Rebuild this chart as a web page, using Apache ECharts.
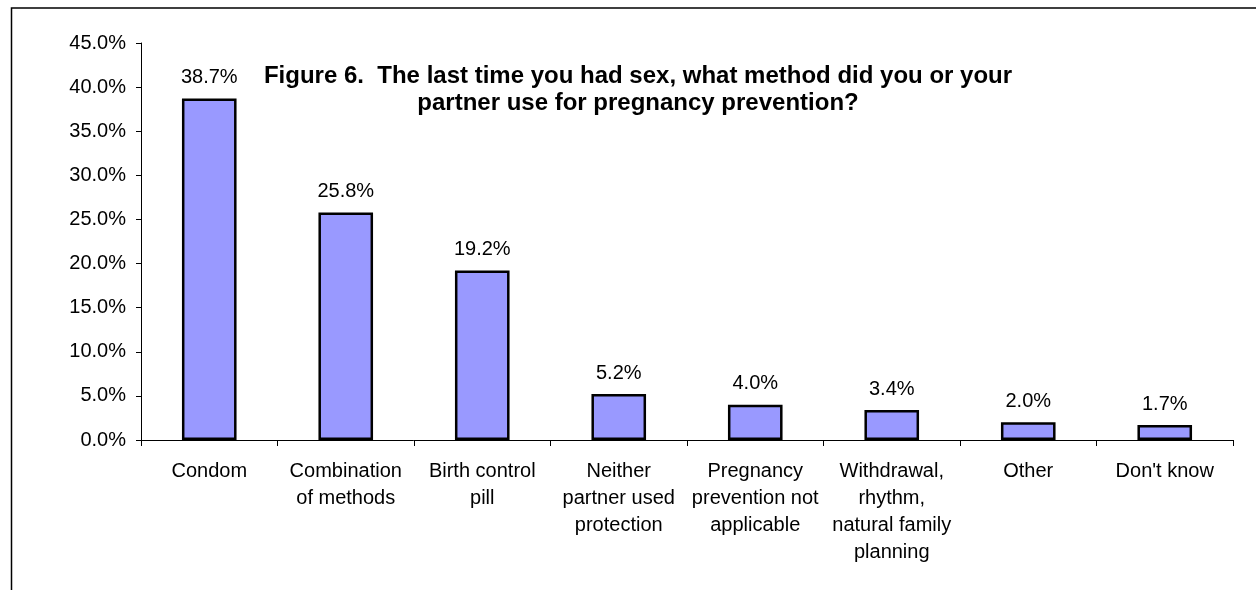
<!DOCTYPE html>
<html>
<head>
<meta charset="utf-8">
<script src="https://cdn.jsdelivr.net/npm/echarts@6/dist/echarts.min.js"></script>
<style>
html,body{margin:0;padding:0;background:#fff;}
#chart{width:1256px;height:590px;}
</style>
</head>
<body>
<div id="chart"></div>
<script>
const categories = [
  "Condom",
  "Combination\nof methods",
  "Birth control\npill",
  "Neither\npartner used\nprotection",
  "Pregnancy\nprevention not\napplicable",
  "Withdrawal,\nrhythm,\nnatural family\nplanning",
  "Other",
  "Don't know"
];
const values = [38.7, 25.8, 19.2, 5.2, 4.0, 3.4, 2.0, 1.7];
const titleText = "Figure 6.  The last time you had sex, what method did you or your\npartner use for pregnancy prevention?";

const font = "'Liberation Sans', Arial, sans-serif";
const chart = echarts.init(document.getElementById('chart'));
chart.setOption({
  animation: false,
  backgroundColor: '#ffffff',
  title: {
    text: titleText,
    left: 633,
    top: 58,
    textAlign: 'center',
    textStyle: {
      fontFamily: font, fontSize: 24, fontWeight: 'bold', color: '#000', lineHeight: 27, align: 'center'
    }
  },
  graphic: [{
    type: 'rect',
    shape: { x: 11.5, y: 8, width: 1400, height: 800 },
    style: { fill: 'none', stroke: '#000', lineWidth: 1.5 },
    silent: true
  }],
  grid: { left: 141, right: 23, top: 43, bottom: 150, containLabel: false },
  xAxis: {
    type: 'category',
    data: categories,
    axisLine: { lineStyle: { color: '#000', width: 1 } },
    axisTick: { show: true, length: 6, lineStyle: { color: '#000' } },
    axisLabel: {
      interval: 0, margin: 18, color: '#000', fontFamily: font, fontSize: 20, lineHeight: 27, align: 'center'
    }
  },
  yAxis: {
    type: 'value',
    min: 0, max: 45, interval: 5,
    axisLine: { show: true, lineStyle: { color: '#000', width: 1 } },
    axisTick: { show: true, length: 5, lineStyle: { color: '#000' } },
    splitLine: { show: false },
    axisLabel: {
      margin: 15, color: '#000', fontFamily: font, fontSize: 20,
      formatter: v => v.toFixed(1) + '%'
    }
  },
  series: [{
    type: 'bar',
    data: values,
    barWidth: '40%',
    itemStyle: { color: '#9999FF', borderColor: '#000', borderWidth: 2.5 },
    label: {
      show: true, position: 'top', distance: 11, color: '#000', fontFamily: font, fontSize: 20,
      formatter: p => p.value.toFixed(1) + '%'
    }
  }]
});
</script>
</body>
</html>
